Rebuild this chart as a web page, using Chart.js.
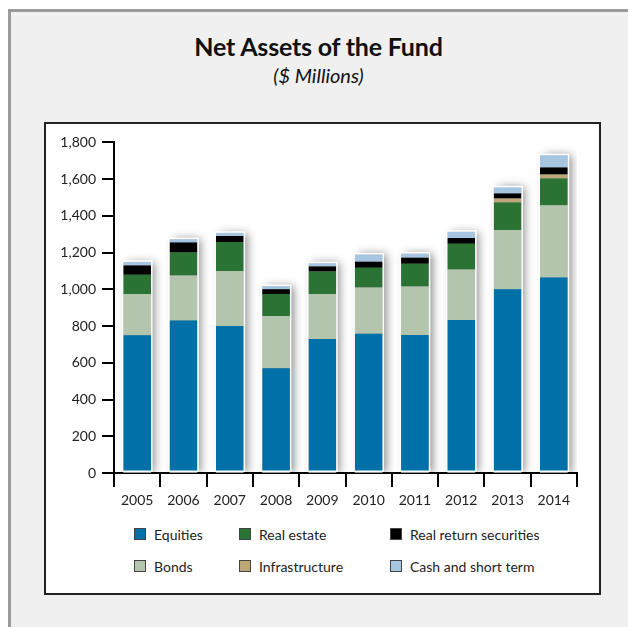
<!DOCTYPE html>
<html>
<head>
<meta charset="utf-8">
<script src="https://cdn.jsdelivr.net/npm/chart.js@4.4.1/dist/chart.umd.min.js"></script>
<style>
  body { margin: 0; background: #fff; font-family: Lato, "Open Sans", sans-serif; }
  #panel { position: absolute; left: 8px; top: 9px; right: 0; bottom: 0; background: #f0f0f0;
           border-left: 3px solid #9a9a9a; border-top: 3px solid #9a9a9a; }
  .heading { position: absolute; left: 9px; width: 619px; text-align: center; color: #111; }
  #title { top: 31px; font-size: 25px; font-weight: bold; letter-spacing: -0.2px; }
  #subtitle { top: 63px; font-size: 20px; font-style: italic; }
  #box { position: absolute; left: 44px; top: 122px; width: 557px; height: 473px; box-sizing: border-box;
         background: #fff; border: 2px solid #222; }
  #chart { position: absolute; left: 46px; top: 128px; }
  #legend { position: absolute; left: 134px; top: 518px; display: grid;
            grid-template-columns: 105px 151px auto; grid-template-rows: 32px 32px; grid-auto-flow: column; }
  .item { display: flex; align-items: center; font-size: 14px; color: #222; }
  .swatch { width: 10px; height: 10px; border: 1px solid #444; margin-right: 8px; }
</style>
</head>
<body>
<div id="panel"></div>
<div id="title" class="heading">Net Assets of the Fund</div>
<div id="subtitle" class="heading">($ Millions)</div>
<div id="box"></div>
<canvas id="chart" width="553" height="384"></canvas>
<div id="legend"></div>
<script>
const years = ['2005', '2006', '2007', '2008', '2009', '2010', '2011', '2012', '2013', '2014'];

const equities       = [750, 830, 800, 570, 730, 758, 752, 833, 1000, 1065];
const bonds          = [225, 245, 300, 285, 245, 252, 263, 275, 323, 393];
const realEstate     = [105, 125, 158, 120, 122, 108, 124, 140, 150, 146];
const infrastructure = [0, 0, 0, 0, 0, 0, 0, 0, 22, 21];
const realReturn     = [50, 55, 33, 25, 27, 32, 33, 32, 27, 38];
const cashShortTerm  = [20, 18, 17, 18, 18, 40, 23, 34, 33, 67];

// stacked bottom to top, legend reads column by column in this order
const series = [
    { label: 'Equities', data: equities, color: '#0070a8' },
    { label: 'Bonds', data: bonds, color: '#b4c5ad' },
    { label: 'Real estate', data: realEstate, color: '#2a7335' },
    { label: 'Infrastructure', data: infrastructure, color: '#bba775' },
    { label: 'Real return securities', data: realReturn, color: '#000000' },
    { label: 'Cash and short term', data: cashShortTerm, color: '#a5c5e0' }
];

// soft shadow behind each stack, white edge around it afterwards
const stackFrame = {
    id: 'stackFrame',
    beforeDatasetsDraw(chart) {
        const { ctx, chartArea, scales: { y } } = chart;
        const bars = chart.getDatasetMeta(0).data;
        ctx.save();
        ctx.beginPath();
        ctx.rect(chartArea.left, chartArea.top - 20, chartArea.width, chartArea.height + 20);
        ctx.clip();
        ctx.shadowColor = 'rgba(0, 0, 0, 0.45)';
        ctx.shadowBlur = 9;
        ctx.shadowOffsetX = 4;
        ctx.fillStyle = '#999';
        bars.forEach((bar, i) => {
            const total = series.reduce((s, d) => s + d.data[i], 0);
            const top = y.getPixelForValue(total);
            ctx.fillRect(bar.x - bar.width / 2, top, bar.width, y.getPixelForValue(0) - top);
        });
        ctx.restore();
    },
    afterDatasetsDraw(chart) {
        const { ctx, scales: { y } } = chart;
        const bars = chart.getDatasetMeta(0).data;
        ctx.save();
        ctx.strokeStyle = '#fff';
        ctx.lineWidth = 1.5;
        bars.forEach((bar, i) => {
            const total = series.reduce((s, d) => s + d.data[i], 0);
            const top = y.getPixelForValue(total);
            ctx.strokeRect(bar.x - bar.width / 2 - 0.75, top - 0.75, bar.width + 1.5, y.getPixelForValue(0) - top - 1);
        });
        ctx.restore();
    }
};

const tickFont = { family: 'Lato', size: 14 };

const chart = new Chart(document.getElementById('chart'), {
    type: 'bar',
    data: {
        labels: years,
        datasets: series.map(s => ({
            label: s.label,
            data: s.data,
            backgroundColor: s.color,
            borderWidth: 0,
            categoryPercentage: 1,
            barPercentage: 0.6
        }))
    },
    options: {
        responsive: false,
        animation: false,
        layout: { padding: { top: 12, right: 22, left: 0, bottom: 0 } },
        plugins: {
            legend: { display: false },
            tooltip: { enabled: false }
        },
        scales: {
            x: {
                stacked: true,
                border: { display: true, color: '#000', width: 2 },
                grid: { offset: true, drawOnChartArea: false, drawTicks: true, tickLength: 14, color: '#000', lineWidth: 2 },
                ticks: { font: tickFont, color: '#222', padding: 5, maxRotation: 0 },
                afterFit(scale) { scale.height = 39; }
            },
            y: {
                stacked: true,
                min: 0,
                max: 1800,
                border: { display: true, color: '#000', width: 2 },
                grid: { drawOnChartArea: false, drawTicks: true, tickLength: 12, color: '#000', lineWidth: 2 },
                ticks: { stepSize: 200, font: tickFont, color: '#222', padding: 6 },
                afterFit(scale) { scale.width = 68; }
            }
        }
    },
    plugins: [stackFrame]
});

// legend built from the datasets, two rows per column
const legend = document.getElementById('legend');
chart.data.datasets.forEach(ds => {
    const item = document.createElement('div');
    item.className = 'item';
    const sw = document.createElement('span');
    sw.className = 'swatch';
    sw.style.background = ds.backgroundColor;
    item.appendChild(sw);
    item.appendChild(document.createTextNode(ds.label));
    legend.appendChild(item);
});
</script>
</body>
</html>
